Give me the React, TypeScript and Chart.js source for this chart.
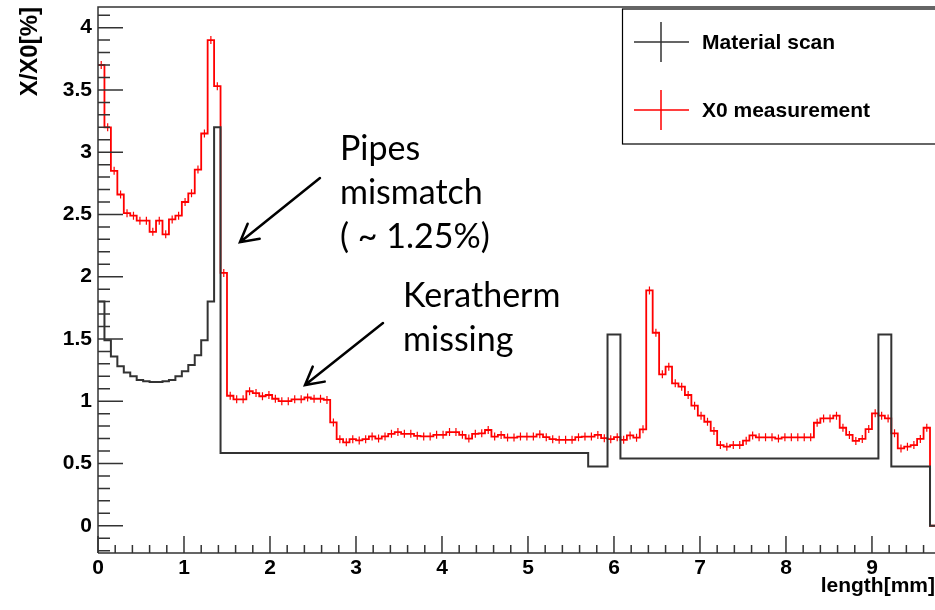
import React, { useEffect, useRef } from "react";
import { Chart, registerables } from "chart.js";

Chart.register(...registerables);

// ---------------- data ----------------
const BIN_WIDTH = 0.075; // mm, bins start at 0

const SERIES_LABELS = ["Material scan", "X0 measurement"];
const SERIES_COLORS = ["#333333", "#ff0000"];

// X/X0 [%] per bin (Material scan, black)
const MATERIAL_SCAN = [
  1.8, 1.49, 1.36, 1.28, 1.23, 1.2, 1.17, 1.16, 1.155, 1.155,
  1.16, 1.17, 1.2, 1.24, 1.29, 1.37, 1.49, 1.8, 3.2, 0.585,
  0.585, 0.585, 0.585, 0.585, 0.585, 0.585, 0.585, 0.585, 0.585, 0.585,
  0.585, 0.585, 0.585, 0.585, 0.585, 0.585, 0.585, 0.585, 0.585, 0.585,
  0.585, 0.585, 0.585, 0.585, 0.585, 0.585, 0.585, 0.585, 0.585, 0.585,
  0.585, 0.585, 0.585, 0.585, 0.585, 0.585, 0.585, 0.585, 0.585, 0.585,
  0.585, 0.585, 0.585, 0.585, 0.585, 0.585, 0.585, 0.585, 0.585, 0.585,
  0.585, 0.585, 0.585, 0.585, 0.585, 0.585, 0.475, 0.475, 0.475, 1.535,
  1.535, 0.54, 0.54, 0.54, 0.54, 0.54, 0.54, 0.54, 0.54, 0.54,
  0.54, 0.54, 0.54, 0.54, 0.54, 0.54, 0.54, 0.54, 0.54, 0.54,
  0.54, 0.54, 0.54, 0.54, 0.54, 0.54, 0.54, 0.54, 0.54, 0.54,
  0.54, 0.54, 0.54, 0.54, 0.54, 0.54, 0.54, 0.54, 0.54, 0.54,
  0.54, 1.535, 1.535, 0.475, 0.475, 0.475, 0.475, 0.475, 0.475, 0.0,
];

// X/X0 [%] per bin (X0 measurement, red)
const X0_MEASUREMENT = [
  3.7, 3.2, 2.85, 2.66, 2.51, 2.49, 2.45, 2.45, 2.36, 2.45,
  2.34, 2.46, 2.49, 2.6, 2.67, 2.86, 3.15, 3.9, 3.53, 2.03,
  1.044, 1.015, 1.015, 1.08, 1.065, 1.04, 1.05, 1.02, 1.0, 1.0,
  1.015, 1.015, 1.03, 1.02, 1.02, 1.01, 0.83, 0.695, 0.67, 0.695,
  0.685, 0.695, 0.717, 0.7, 0.717, 0.738, 0.752, 0.738, 0.738, 0.722,
  0.717, 0.717, 0.73, 0.73, 0.752, 0.752, 0.73, 0.7, 0.738, 0.742,
  0.769, 0.716, 0.729, 0.708, 0.708, 0.716, 0.716, 0.716, 0.734, 0.711,
  0.695, 0.69, 0.69, 0.69, 0.711, 0.716, 0.716, 0.729, 0.703, 0.695,
  0.711, 0.69, 0.725, 0.707, 0.774, 1.89, 1.55, 1.216, 1.277, 1.144,
  1.117, 1.05, 0.964, 0.884, 0.835, 0.761, 0.648, 0.635, 0.648, 0.648,
  0.683, 0.725, 0.71, 0.71, 0.71, 0.7, 0.71, 0.71, 0.71, 0.71,
  0.71, 0.827, 0.862, 0.862, 0.884, 0.787, 0.729, 0.681, 0.697, 0.776,
  0.903, 0.884, 0.862, 0.742, 0.621, 0.635, 0.648, 0.697, 0.787, 0.0,
];

const X_TICKS = [0, 1, 2, 3, 4, 5, 6, 7, 8, 9];
const Y_TICKS = [0, 0.5, 1, 1.5, 2, 2.5, 3, 3.5, 4];
const X_MIN = 0;
const X_MAX = 9.733;
const Y_MIN = -0.219;
const Y_MAX = 4.166;

const X_TITLE = "length[mm]";
const Y_TITLE = "X/X0[%]";

const ANNOTATIONS = [
  {
    lines: ["Pipes", "mismatch", "( ~ 1.25%)"],
    at: [2.814, 2.937],
    arrowFrom: [2.581, 2.793],
    arrowTo: [1.651, 2.277],
  },
  {
    lines: ["Keratherm", "missing"],
    at: [3.547, 1.757],
    arrowFrom: [3.314, 1.628],
    arrowTo: [2.407, 1.13],
  },
];

// ---------------- helpers ----------------
const ROOT_FONT = '"Liberation Sans", Arial, Helvetica, sans-serif';
const NOTE_FONT = 'Lato, "Open Sans", sans-serif';

function toSteps(values: number[]) {
  const pts = values.map((v, i) => ({ x: i * BIN_WIDTH, y: v }));
  pts.push({ x: values.length * BIN_WIDTH, y: values[values.length - 1] });
  return pts;
}

const rootAxesPlugin = {
  id: "rootAxes",
  afterDatasetDraw(chart: any, args: any) {
    if (args.index !== 1) return;
    // error-bar crosses for the measurement histogram
    const { ctx, scales, chartArea: a } = chart;
    const x = scales.x;
    const y = scales.y;
    ctx.save();
    ctx.beginPath();
    ctx.rect(a.left, a.top, a.right - a.left, a.bottom - a.top);
    ctx.clip();
    ctx.strokeStyle = SERIES_COLORS[1];
    ctx.lineWidth = 1.2;
    ctx.beginPath();
    X0_MEASUREMENT.forEach((v, i) => {
      if (v <= 0) return;
      const px = x.getPixelForValue(i * BIN_WIDTH + BIN_WIDTH / 2);
      const py = y.getPixelForValue(v);
      ctx.moveTo(px, py - 4);
      ctx.lineTo(px, py + 4);
    });
    ctx.stroke();
    ctx.restore();
  },
  afterDatasetsDraw(chart: any) {
    const { ctx, chartArea: a, scales } = chart;
    const x = scales.x;
    const y = scales.y;
    ctx.save();
    ctx.strokeStyle = "#333";
    ctx.lineWidth = 1.5;
    ctx.beginPath();
    ctx.moveTo(a.left, a.bottom);
    ctx.lineTo(a.left, a.top);
    ctx.lineTo(a.right + 2, a.top);
    ctx.moveTo(a.left, a.bottom);
    ctx.lineTo(a.right + 2, a.bottom);
    ctx.stroke();
    // y ticks (inside)
    ctx.beginPath();
    for (let i = Math.ceil(Y_MIN * 10); i <= Math.floor(Y_MAX * 10); i++) {
      const py = y.getPixelForValue(i / 10);
      const len = i % 5 === 0 ? 25 : 12;
      ctx.moveTo(a.left, py);
      ctx.lineTo(a.left + len, py);
    }
    // x ticks (inside)
    for (let i = Math.ceil(X_MIN * 5); i <= Math.floor(X_MAX * 5); i++) {
      const px = x.getPixelForValue(i / 5);
      const len = i % 5 === 0 ? 17 : 8;
      ctx.moveTo(px, a.bottom);
      ctx.lineTo(px, a.bottom - len);
    }
    ctx.stroke();
    ctx.restore();
  },
  afterDraw(chart: any) {
    const { ctx, scales } = chart;
    const x = scales.x;
    const y = scales.y;
    ctx.save();
    // legend box
    ctx.strokeStyle = "#000";
    ctx.lineWidth = 1.2;
    ctx.fillStyle = "#fff";
    ctx.fillRect(622.5, 9, 320, 135);
    ctx.strokeRect(622.5, 9, 320, 135);
    chart.data.datasets.forEach((ds: any, i: number) => {
      const cy = 42 + i * 68;
      ctx.strokeStyle = ds.borderColor;
      ctx.lineWidth = 1.5;
      ctx.beginPath();
      ctx.moveTo(634, cy);
      ctx.lineTo(689, cy);
      ctx.moveTo(661, cy - 20);
      ctx.lineTo(661, cy + 20);
      ctx.stroke();
      ctx.fillStyle = "#000";
      ctx.font = `bold 21px ${ROOT_FONT}`;
      ctx.textAlign = "left";
      ctx.textBaseline = "middle";
      ctx.fillText(ds.label, 702, cy + 1);
    });
    // annotations
    ctx.fillStyle = "#000";
    ctx.strokeStyle = "#000";
    ctx.font = `34px ${NOTE_FONT}`;
    ctx.textAlign = "left";
    ctx.textBaseline = "alphabetic";
    ANNOTATIONS.forEach((an) => {
      const tx = x.getPixelForValue(an.at[0]);
      const ty = y.getPixelForValue(an.at[1]);
      an.lines.forEach((line, j) => ctx.fillText(line, tx, ty + j * 44));
      const x0 = x.getPixelForValue(an.arrowFrom[0]);
      const y0 = y.getPixelForValue(an.arrowFrom[1]);
      const x1 = x.getPixelForValue(an.arrowTo[0]);
      const y1 = y.getPixelForValue(an.arrowTo[1]);
      const ang = Math.atan2(y1 - y0, x1 - x0);
      ctx.lineWidth = 2.5;
      ctx.lineCap = "round";
      ctx.beginPath();
      ctx.moveTo(x0, y0);
      ctx.lineTo(x1, y1);
      const L = 20;
      const w = 0.5;
      ctx.moveTo(x1 - L * Math.cos(ang - w), y1 - L * Math.sin(ang - w));
      ctx.lineTo(x1, y1);
      ctx.lineTo(x1 - L * Math.cos(ang + w), y1 - L * Math.sin(ang + w));
      ctx.stroke();
    });
    ctx.restore();
  },
};

export default function App() {
  const ref = useRef<HTMLCanvasElement | null>(null);

  useEffect(() => {
    if (!ref.current) return;
    const chart = new Chart(ref.current, {
      type: "line",
      data: {
        datasets: [
          {
            label: SERIES_LABELS[0],
            data: toSteps(MATERIAL_SCAN),
            borderColor: SERIES_COLORS[0],
            borderWidth: 2,
            stepped: "before",
            pointRadius: 0,
            fill: false,
          },
          {
            label: SERIES_LABELS[1],
            data: toSteps(X0_MEASUREMENT),
            borderColor: SERIES_COLORS[1],
            borderWidth: 1.8,
            stepped: "before",
            pointRadius: 0,
            fill: false,
          },
        ],
      },
      options: {
        animation: false,
        responsive: false,
        maintainAspectRatio: false,
        layout: { padding: { top: 7, left: 0, right: 0, bottom: 0 } },
        plugins: {
          legend: { display: false },
          tooltip: { enabled: false },
        },
        scales: {
          x: {
            type: "linear",
            min: X_MIN,
            max: X_MAX,
            grid: { display: false, drawTicks: false },
            border: { display: false },
            ticks: {
              color: "#000",
              font: { family: ROOT_FONT, size: 21, weight: "bold" },
              padding: 3,
              maxRotation: 0,
              autoSkip: false,
              callback: (v: any) => String(v),
            },
            afterBuildTicks: (s: any) => {
              s.ticks = X_TICKS.map((v) => ({ value: v }));
            },
            afterFit: (s: any) => {
              s.height = 57;
              s.paddingLeft = 0;
              s.paddingRight = 0;
            },
            title: {
              display: true,
              text: X_TITLE,
              align: "end",
              color: "#000",
              font: { family: ROOT_FONT, size: 21, weight: "bold" },
              padding: { top: 0, bottom: 11 },
            },
          },
          y: {
            type: "linear",
            min: Y_MIN,
            max: Y_MAX,
            grid: { display: false, drawTicks: false },
            border: { display: false },
            ticks: {
              color: "#000",
              font: { family: ROOT_FONT, size: 21, weight: "bold" },
              padding: 6,
              autoSkip: false,
              callback: (v: any) => String(v),
            },
            afterBuildTicks: (s: any) => {
              s.ticks = Y_TICKS.map((v) => ({ value: v }));
            },
            afterFit: (s: any) => {
              s.width = 98;
              s.paddingTop = 0;
              s.paddingBottom = 0;
            },
            title: {
              display: true,
              text: Y_TITLE,
              align: "end",
              color: "#000",
              font: { family: ROOT_FONT, size: 24, weight: "bold" },
              padding: { top: 16, bottom: 0 },
            },
          },
        },
      },
      plugins: [rootAxesPlugin],
    } as any);
    return () => chart.destroy();
  }, []);

  return (
    <div style={{ position: "absolute", left: 0, top: 0, width: 935, height: 610, background: "#fff" }}>
      <canvas ref={ref} width={935} height={610} style={{ display: "block" }} />
    </div>
  );
}
